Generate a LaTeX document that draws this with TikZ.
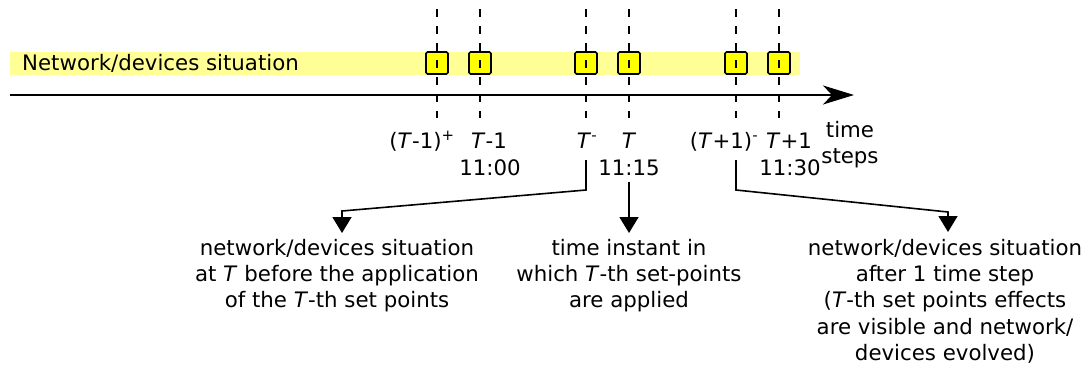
\documentclass[tikz,border=0pt]{standalone}
\usepackage{fontspec}
\setmainfont{DejaVu Sans}
\usetikzlibrary{positioning, arrows.meta}
\definecolor{bandyellow}{RGB}{255,255,150}
\definecolor{boxyellow}{RGB}{255,255,0}
\tikzset{
  box/.style={draw, line width=1.6pt, fill=boxyellow, rounded corners=1.5pt,
    minimum width=22pt, minimum height=22pt, inner sep=0pt},
  dashline/.style={line width=1.5pt, dash pattern=on 8pt off 9pt},
  lbl/.style={inner sep=0pt, anchor=base},
  desc/.style={inner sep=0pt, anchor=north, align=center},
  conn/.style={line width=1.6pt, -{Triangle[width=19pt, length=16pt]}},
}

\begin{document}
\begin{tikzpicture}[x=1pt, y=-1pt, font=\fontsize{21.3}{26.3}\selectfont]

    \useasboundingbox (0,0) rectangle (1089,365);

    % situation band
    \fill[bandyellow] (10,52) rectangle (800,75);
    \node[inner sep=0pt, anchor=west] (band) at (22,63.5) {Network/devices situation};

    % time axis
    \coordinate (axstart) at (10,95);
    \coordinate (axend) at (854,95);
    \draw[line width=2.2pt, -{Stealth[width=19pt, length=31pt, inset=9pt]}]
      (axstart) -- (axend);

    % instants
    \foreach \x [count=\i] in {437,480,586,629,736,779} {
      \node[box] (b\i) at (\x,63) {};
      \draw[dashline] (\x,9) -- (\x,118);
    }

    % labels of the instants
    \node[lbl] (tm1p) at (422,148) {(\textit{T}-1)\textsuperscript{+}};
    \node[lbl] (tm1) at (489,148) {\textit{T}-1};
    \node[lbl] (tm1h) at (490,175) {11:00};
    \node[lbl] (t0m) at (587,148) {\textit{T}\textsuperscript{-}};
    \node[lbl] (t0) at (629,148) {\textit{T}};
    \node[lbl] (t0h) at (629,175) {11:15};
    \node[lbl] (tp1m) at (724,148) {(\textit{T}+1)\textsuperscript{-}};
    \node[lbl] (tp1) at (789,148) {\textit{T}+1};
    \node[lbl] (tp1h) at (790,175) {11:30};
    \node[lbl] (ts1) at (850,137) {time};
    \node[lbl] (ts2) at (850,163) {steps};

    % descriptions
    \node[desc] (dl) at (337,239) {network/devices situation\\
      at \textit{T} before the application\\
      of the \textit{T}-th set points};
    \node[desc] (dm) at (629,239) {time instant in\\
      which \textit{T}-th set-points\\
      are applied};
    \node[desc] (dr) at (945,239) {network/devices situation\\
      after 1 time step\\
      (\textit{T}-th set points effects\\
      are visible and network/\\
      devices evolved)};

    \coordinate (s1) at (586,160);
    \coordinate (s3) at (736,160);

    \draw[conn] (s1) -- ++(0,30) -- ([xshift=5pt, yshift=28pt]dl.north)
      -- ([xshift=5pt, yshift=6pt]dl.north);
    \draw[conn] ([yshift=-6pt]t0h.south) -- ([yshift=6pt]dm.north);
    \draw[conn] (s3) -- ++(0,30) -- ([xshift=3pt, yshift=27pt]dr.north)
      -- ([xshift=3pt, yshift=7pt]dr.north);

\end{tikzpicture}
\end{document}
